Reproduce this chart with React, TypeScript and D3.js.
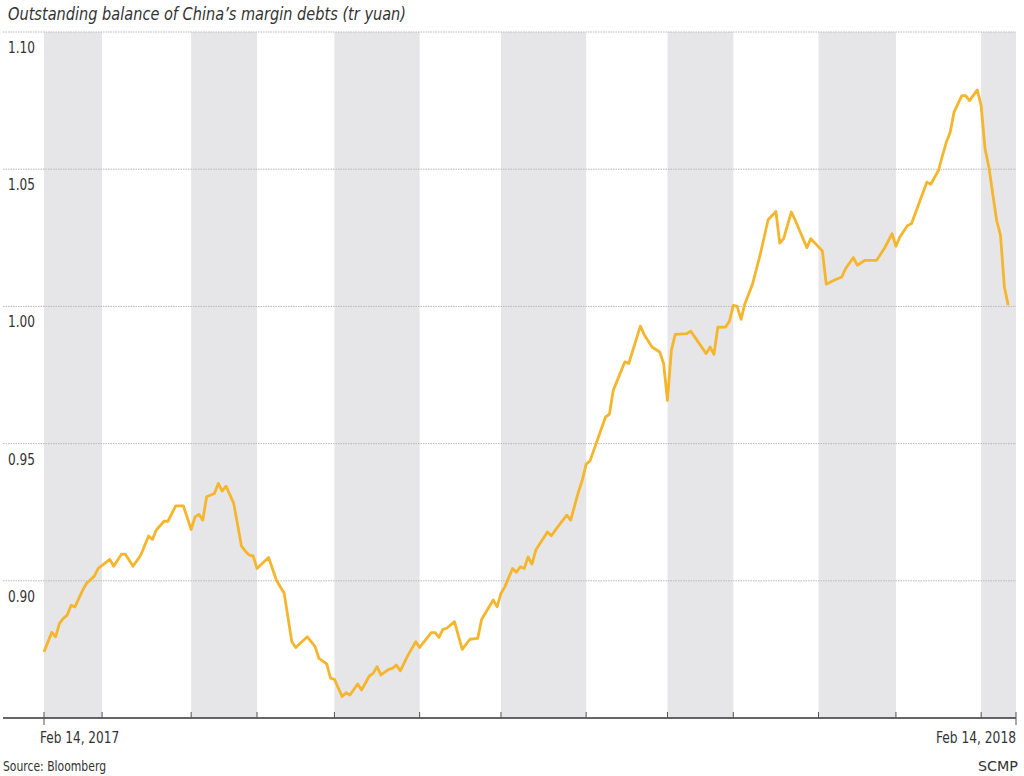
import React from "react";
import * as d3 from "d3";

// Month bands measured in trading days (Feb 14, 2017 -> Feb 14, 2018)
const monthNames = ["Feb", "Mar", "Apr", "May", "Jun", "Jul", "Aug", "Sep", "Oct", "Nov", "Dec", "Jan", "Feb"];
const monthTradingDays = [15, 23, 17, 20, 22, 21, 22, 21, 17, 22, 20, 22, 9];

const yTicks = [0.9, 0.95, 1.0, 1.05, 1.1];
const xEndLabels = ["Feb 14, 2017", "Feb 14, 2018"];

// Trading-day index and outstanding balance (tr yuan)
const tradingDay = [
  0, 2, 3, 4, 5, 6, 7, 8, 9, 10, 11, 13, 14, 17, 18, 20, 21, 23, 25, 27,
  28, 29, 31, 32, 34, 36, 38, 39, 40, 41, 42, 44, 45, 46, 47, 49, 51, 52, 53, 54,
  55, 58, 60, 61, 62, 64, 65, 68, 70, 71, 73, 74, 75, 77, 78, 79, 81, 82, 84, 85,
  86, 87, 89, 90, 91, 92, 94, 96, 97, 100, 101, 102, 103, 104, 106, 108, 110, 112, 113, 116,
  117, 118, 119, 121, 122, 123, 124, 125, 126, 127, 130, 131, 133, 135, 136, 138, 139, 140, 141, 145,
  146, 147, 150, 151, 154, 155, 157, 159, 160, 161, 162, 163, 166, 167, 171, 172, 173, 174, 176, 177,
  178, 179, 180, 181, 183, 185, 187, 189, 190, 191, 193, 194, 197, 198, 201, 202, 204, 206, 207, 209,
  210, 212, 215, 217, 219, 220, 221, 223, 224, 228, 229, 231, 232, 233, 234, 235, 237, 238, 239, 241,
  242, 243, 244, 246, 247, 248, 249,
];
const marginBalance = [
  0.8741, 0.8812, 0.8796, 0.8845, 0.8863, 0.8875, 0.8911, 0.8905, 0.8936, 0.8966, 0.8991, 0.9017, 0.9045, 0.9078, 0.9053, 0.9097, 0.9097, 0.9053, 0.9094, 0.9163,
  0.9151, 0.9185, 0.9217, 0.9217, 0.9273, 0.9273, 0.9187, 0.9233, 0.9242, 0.9221, 0.9306, 0.9318, 0.9355, 0.9327, 0.9345, 0.9282, 0.9126, 0.9108, 0.9094, 0.9091,
  0.9045, 0.9085, 0.9003, 0.8978, 0.8956, 0.8778, 0.8757, 0.8796, 0.8760, 0.8717, 0.8697, 0.8645, 0.8641, 0.8578, 0.8592, 0.8584, 0.8624, 0.8602, 0.8653, 0.8663,
  0.8687, 0.8657, 0.8677, 0.8681, 0.8693, 0.8672, 0.8729, 0.8778, 0.8757, 0.8811, 0.8811, 0.8794, 0.8823, 0.8827, 0.8851, 0.8750, 0.8787, 0.8790, 0.8859, 0.8930,
  0.8905, 0.8954, 0.8978, 0.9045, 0.9031, 0.9051, 0.9045, 0.9087, 0.9061, 0.9112, 0.9178, 0.9164, 0.9203, 0.9239, 0.9221, 0.9324, 0.9367, 0.9425, 0.9437, 0.9597,
  0.9607, 0.9694, 0.9798, 0.9792, 0.9928, 0.9897, 0.9852, 0.9834, 0.9792, 0.9658, 0.9840, 0.9898, 0.9901, 0.9910, 0.9828, 0.9852, 0.9825, 0.9924, 0.9925, 0.9946,
  1.0004, 1.0000, 0.9953, 1.0010, 1.0083, 1.0192, 1.0316, 1.0346, 1.0231, 1.0247, 1.0344, 1.0314, 1.0214, 1.0247, 1.0202, 1.0081, 1.0095, 1.0107, 1.0138, 1.0178,
  1.0150, 1.0168, 1.0168, 1.0211, 1.0265, 1.0219, 1.0253, 1.0295, 1.0301, 1.0453, 1.0445, 1.0496, 1.0549, 1.0598, 1.0634, 1.0708, 1.0768, 1.0768, 1.0750, 1.0789,
  1.0732, 1.0575, 1.0507, 1.0313, 1.0259, 1.0071, 1.0004,
];

const W = 1024;
const H = 776;
const M = { left: 44, right: 8, top: 32, bottom: 58 };

export default function App() {
  const totalDays = d3.sum(monthTradingDays);
  const x = d3.scaleLinear().domain([0, totalDays]).range([M.left, W - M.right]);
  const y = d3.scaleLinear().domain([0.85, 1.1]).range([H - M.bottom, M.top]);

  const bounds = [0, ...d3.cumsum(monthTradingDays)];
  const bands = monthNames.map((m, i) => ({ m, i, x0: bounds[i], x1: bounds[i + 1] }));

  const points = tradingDay.map((d, i) => [d, marginBalance[i]] as [number, number]);
  const line = d3
    .line<[number, number]>()
    .x((d) => x(d[0]))
    .y((d) => y(d[1]));

  const font = "'DejaVu Sans Condensed', 'Liberation Sans Narrow', sans-serif";
  const axisY = y(0.85);
  const gridX0 = 3;
  const gridX1 = x(totalDays);

  return (
    <svg
      width={W}
      height={H}
      viewBox={`0 0 ${W} ${H}`}
      style={{ position: "absolute", left: 0, top: 0, background: "#fff" }}
      fontFamily={font}
    >
      <text x={8} y={20} fontSize={18} fontStyle="italic" fill="#333" textLength={398} lengthAdjust="spacingAndGlyphs">
        Outstanding balance of China’s margin debts (tr yuan)
      </text>

      {bands
        .filter((b) => b.i % 2 === 0)
        .map((b) => (
          <rect
            key={b.i}
            x={x(b.x0)}
            y={y(1.1)}
            width={x(b.x1) - x(b.x0)}
            height={axisY - y(1.1)}
            fill="#e6e6e8"
          />
        ))}

      {yTicks.map((t) => (
        <g key={t}>
          <line
            x1={gridX0}
            x2={gridX1}
            y1={y(t)}
            y2={y(t)}
            stroke="#b8b8b8"
            strokeWidth={1}
            strokeDasharray="1.5,1"
          />
          <text x={8} y={y(t) + 21} fontSize={15} fill="#333" textLength={27} lengthAdjust="spacingAndGlyphs">
            {d3.format(".2f")(t)}
          </text>
        </g>
      ))}

      <path d={line(points) || ""} fill="none" stroke="#f5b52c" strokeWidth={2.8} strokeLinejoin="round" />

      <line x1={gridX0} x2={gridX1} y1={axisY} y2={axisY} stroke="#333" strokeWidth={1.5} />
      {bounds.map((b, i) => {
        const isEnd = i === 0 || i === bounds.length - 1;
        return (
          <line
            key={i}
            x1={x(b)}
            x2={x(b)}
            y1={axisY - 6}
            y2={isEnd ? axisY + 7 : axisY}
            stroke="#555"
            strokeWidth={1}
          />
        );
      })}

      <text transform={`translate(${x(0) - 4},743) scale(0.87,1)`} fontSize={15.5} fill="#333">
        {xEndLabels[0]}
      </text>
      <text transform={`translate(${x(totalDays)},743) scale(0.88,1)`} fontSize={15.5} fill="#333" textAnchor="end">
        {xEndLabels[1]}
      </text>

      <text x={3} y={771} fontSize={14.5} fill="#333" textLength={103} lengthAdjust="spacingAndGlyphs">
        Source: Bloomberg
      </text>
      <text x={978} y={771} fontSize={14.5} fill="#333" textLength={40} lengthAdjust="spacingAndGlyphs">
        SCMP
      </text>
    </svg>
  );
}
